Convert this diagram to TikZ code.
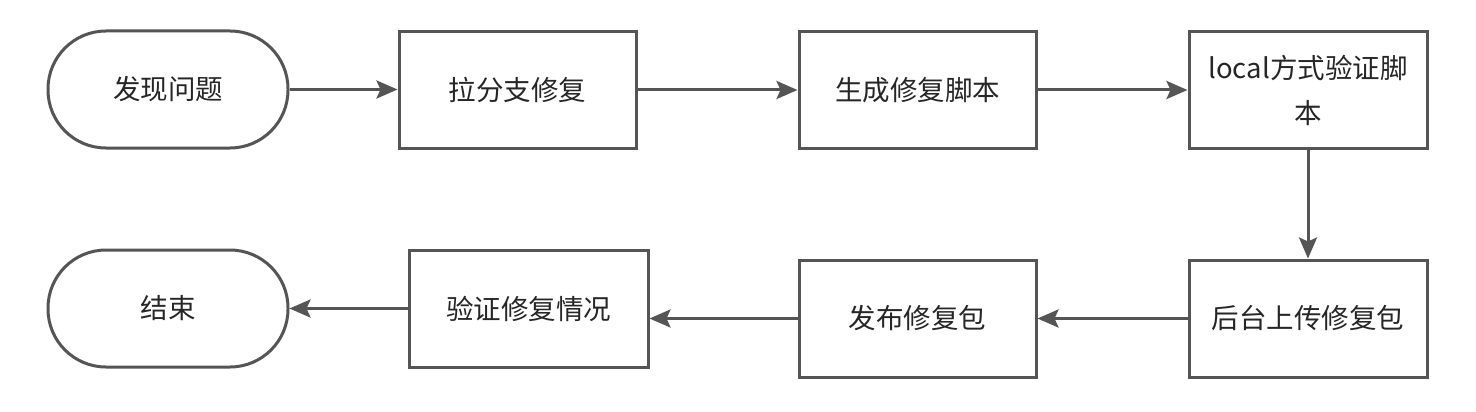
\documentclass[tikz,border=0pt]{standalone}
\usepackage{fontspec}
\setmainfont{Noto Sans CJK SC}
\usetikzlibrary{arrows.meta}
\definecolor{lc}{HTML}{555555}
\begin{document}
\begin{tikzpicture}[x=1pt,y=-1pt,
  box/.style={draw=lc, line width=3pt, fill=white, minimum width=237pt, minimum height=116pt, inner sep=4pt, align=center, font=\fontsize{27.5}{45}\selectfont, text=black!85},
  term/.style={box, minimum width=240pt, minimum height=117pt, rounded corners=58pt},
  arr/.style={draw=lc, line width=3pt, -{Stealth[length=21pt,width=18pt,inset=4pt]}}]
\fill[white] (0,0) rectangle (1476,412);
\node[term] (n1) at (168,89.5) {发现问题};
\node[box] (n2) at (517.5,90) {拉分支修复};
\node[box] (n3) at (917.5,90) {生成修复脚本};
\node[box, minimum width=238pt] (n4) at (1308,90) {local方式验证脚\\本};
\node[box, minimum width=238pt, minimum height=117pt] (n5) at (1308,318.5) {后台上传修复包};
\node[box, minimum height=117pt] (n6) at (917.5,318.5) {发布修复包};
\node[box, minimum width=239pt, minimum height=117pt] (n7) at (528.5,308.5) {验证修复情况};
\node[term] (n8) at (168,308.5) {结束};
\draw[arr] (n1.east) -- (n1.east -| n2.west);
\draw[arr] (n2.east) -- (n3.west);
\draw[arr] (n3.east) -- (n4.west);
\draw[arr] (n4.south) -- (n5.north);
\draw[arr] (n5.west) -- (n6.east);
\draw[arr] (n6.west) -- (n6.west -| n7.east);
\draw[arr] (n7.west) -- (n8.east);
\end{tikzpicture}
\end{document}
